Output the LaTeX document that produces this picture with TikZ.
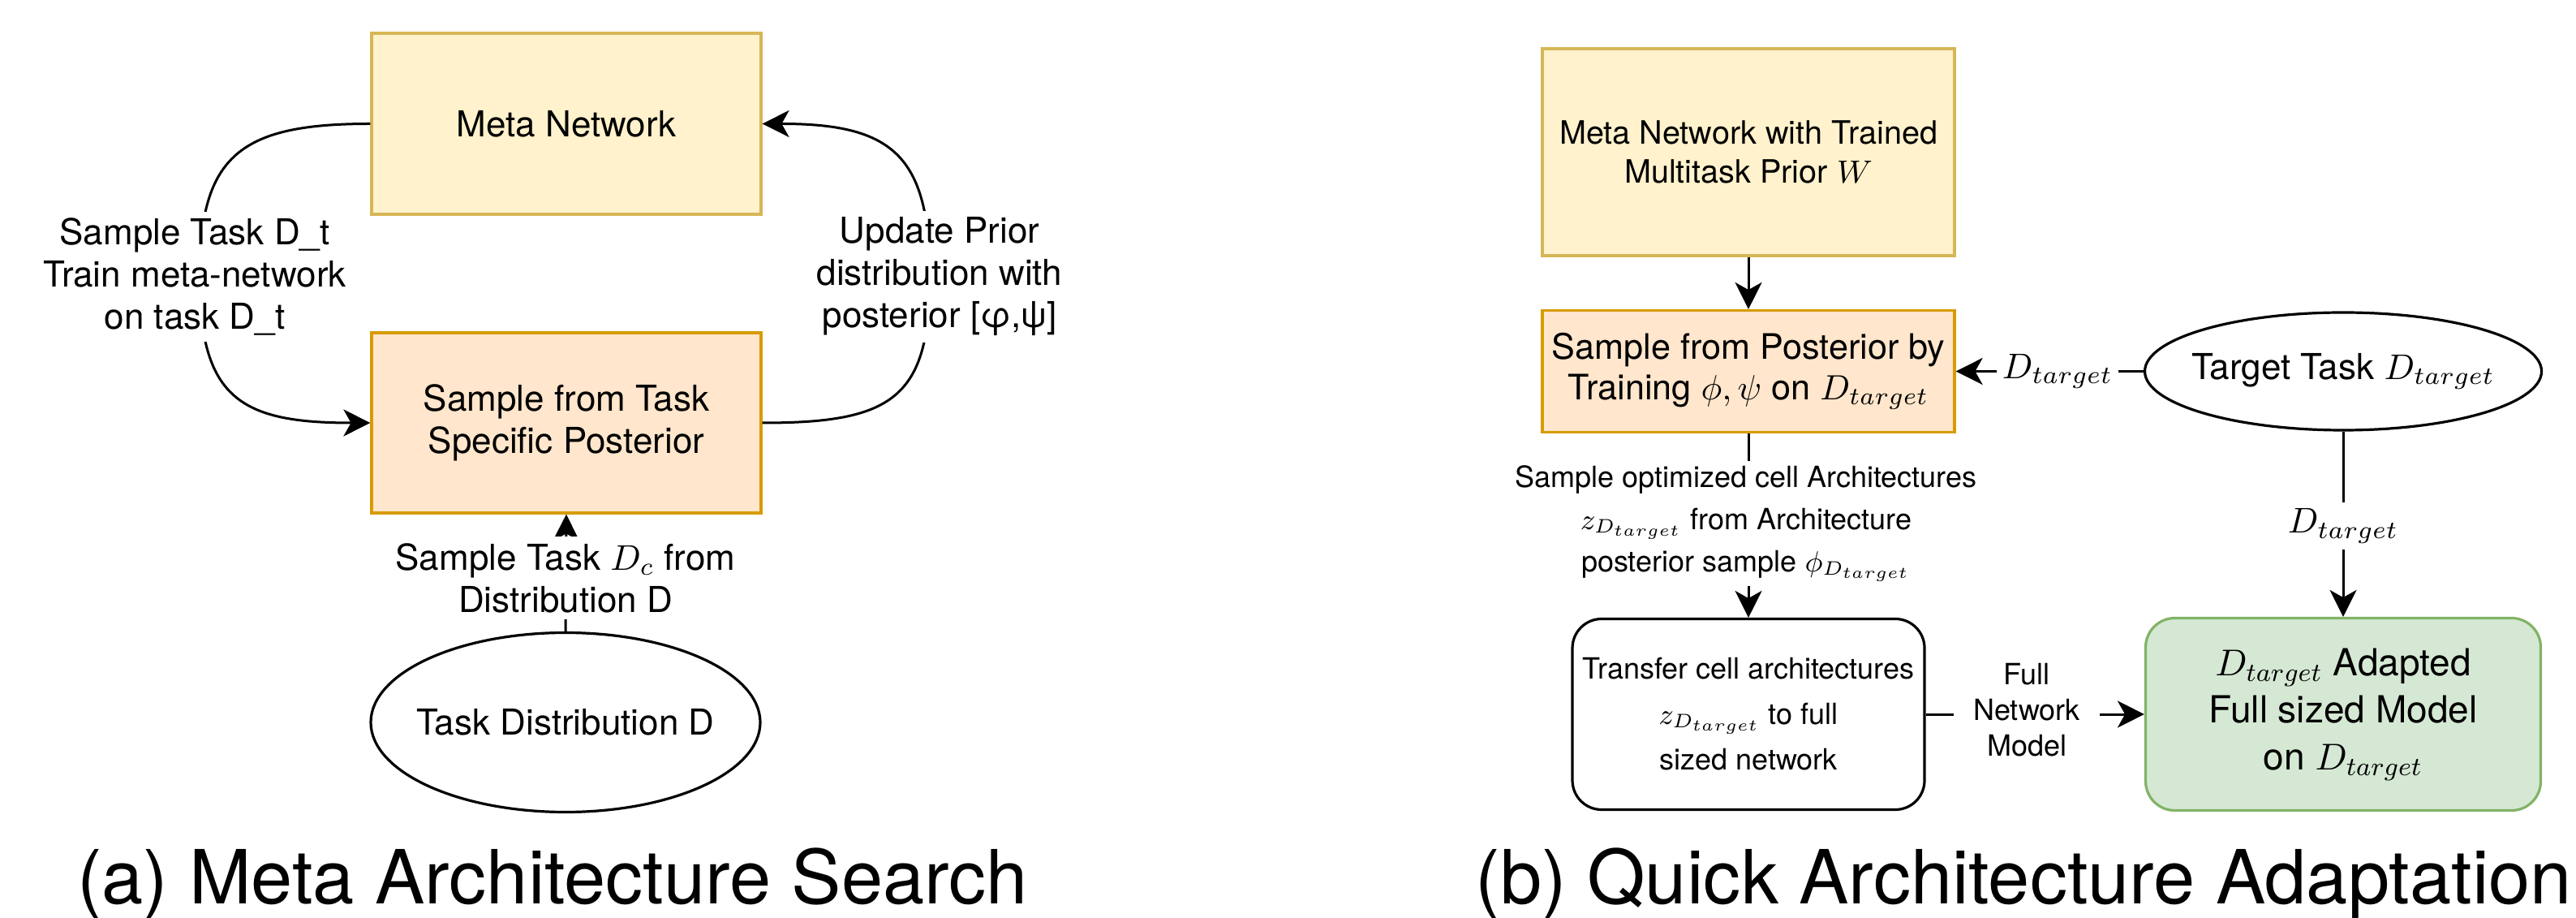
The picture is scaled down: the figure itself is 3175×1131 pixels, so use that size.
\documentclass[tikz,border=0pt]{standalone}
\usepackage{fix-cm}
\usepackage{fontspec}
\setmainfont{TeX Gyre Heros}
\usetikzlibrary{shapes.geometric,arrows.meta}
\definecolor{metaF}{HTML}{FFF2CC}
\definecolor{metaD}{HTML}{D6B656}
\definecolor{postF}{HTML}{FFE6CC}
\definecolor{postD}{HTML}{D79B00}
\definecolor{grnF}{HTML}{D5E8D4}
\definecolor{grnD}{HTML}{82B366}
\newcommand\myfsL{\fontsize{11}{13}\selectfont}
\newcommand\myfsP{\fontsize{10.8}{12.5}\selectfont}
\newcommand\myfsM{\fontsize{9.9}{12}\selectfont}
\newcommand\myfsS{\fontsize{9}{13}\selectfont}
\newcommand\myfsT{\fontsize{9}{14}\selectfont}
\newcommand\myfsF{\fontsize{9}{11}\selectfont}
\newcommand\myfsG{\fontsize{11.5}{14.5}\selectfont}
\newcommand\myfsCap{\fontsize{23}{27}\selectfont}
\tikzset{
  conn/.style={line width=0.75pt, draw=black},
  arr/.style={conn, -{Stealth[length=8.25pt,width=8.25pt,inset=2.3pt]}},
  lab/.style={fill=white, inner sep=2pt, align=center},
  boxY/.style={draw=metaD, fill=metaF, line width=0.8pt, align=center, inner xsep=1pt},
  boxO/.style={draw=postD, fill=postF, line width=0.8pt, align=center, inner xsep=1pt},
  boxW/.style={draw=black, fill=white, line width=0.8pt, rounded corners=9pt, align=center, inner xsep=1pt},
  boxG/.style={draw=grnD, fill=grnF, line width=0.8pt, rounded corners=9pt, align=center, inner xsep=1pt},
  ell/.style={draw=black, fill=white, ellipse, line width=0.8pt, inner sep=0pt},
  captxt/.style={font=\myfsCap, anchor=base, inner sep=0pt}
}
\begin{document}
\begin{tikzpicture}[x=0.25pt,y=-0.25pt]
\useasboundingbox (0,0) rectangle (3175,1131);
% ---------- (a) ----------
\node[boxY, minimum width=120pt, minimum height=55.75pt, font=\myfsL] (meta) at (698,152.5) {Meta Network};
\node[boxO, minimum width=120pt, minimum height=55.5pt, font=\myfsL] (samp) at (698,521) {Sample from Task\\Specific Posterior};
\node[ell, minimum width=120pt, minimum height=55.25pt, font=\myfsL] (tdist) at (697,890) {\makebox[0pt]{Task Distribution D}};
\coordinate (lmid) at (246,341);
\coordinate (rmid) at (1146,341);
\draw[arr] (meta.west) .. controls +(-160,0) and +(0,-150) .. (lmid) .. controls +(0,150) and +(-160,0) .. (samp.west);
\draw[arr] (samp.east) .. controls +(160,0) and +(0,150) .. (rmid) .. controls +(0,-150) and +(160,0) .. (meta.east);
\draw[arr] (tdist.north) -- (samp.south);
\node[lab, font=\myfsL] (lt) at (240,341) {Sample Task D\_t\\Train meta-network\\on task D\_t};
\node[lab, font=\myfsL] (rt) at (1158,341) {Update Prior\\distribution with\\posterior [φ,ψ]};
\node[lab, font=\myfsL] (bt) at (697,712) {Sample Task $D_c$ from\\Distribution D};
\node[captxt] (capa) at (681,1113) {(a) Meta Architecture Search};
% ---------- (b) ----------
\node[boxY, minimum width=127pt, minimum height=63.75pt, font=\myfsM] (meta2) at (2155,187.5) {Meta Network with Trained\\Multitask Prior $W$};
\node[boxO, minimum width=127pt, minimum height=37.5pt, font=\myfsP] (samp2) at (2155,457.5) {Sample from Posterior by\\Training $\phi,\psi$ on $D_{target}$};
\node[ell, minimum width=122.25pt, minimum height=36.25pt, font=\myfsL] (target) at (2888,457.5) {\makebox[0pt]{Target Task $D_{target}$}};
\node[boxW, minimum width=108.5pt, minimum height=58.75pt, font=\myfsT] (transfer) at (2155,880) {Transfer cell architectures\\$z_{D_{target}}$ to full\\sized network};
\node[boxG, minimum width=121.75pt, minimum height=59.25pt, font=\myfsG] (green) at (2888,880) {$D_{target}$ Adapted\\Full sized Model\\on $D_{target}$};
\draw[arr] (meta2.south) -- (samp2.north);
\draw[arr] (target.west) -- (samp2.east);
\draw[arr] (samp2.south) -- (transfer.north);
\draw[arr] (target.south) -- (green.north);
\draw[arr] (transfer.east) -- (green.west);
\node[lab, font=\myfsL, inner xsep=1.75pt] (l1) at (2536,457.5) {$D_{target}$};
\node[lab, font=\myfsS, inner sep=1.5pt] (l2) at (2152,645) {Sample optimized cell Architectures\\$z_{D_{target}}$ from Architecture\\posterior sample $\phi_{D_{target}}$};
\node[lab, font=\myfsL] (l3) at (2888,648) {$D_{target}$};
\node[lab, font=\myfsF, inner xsep=6pt] (l4) at (2498,875) {Full\\Network\\Model};
\node[captxt] (capb) at (2494,1113) {(b) Quick Architecture Adaptation};
\end{tikzpicture}
\end{document}
